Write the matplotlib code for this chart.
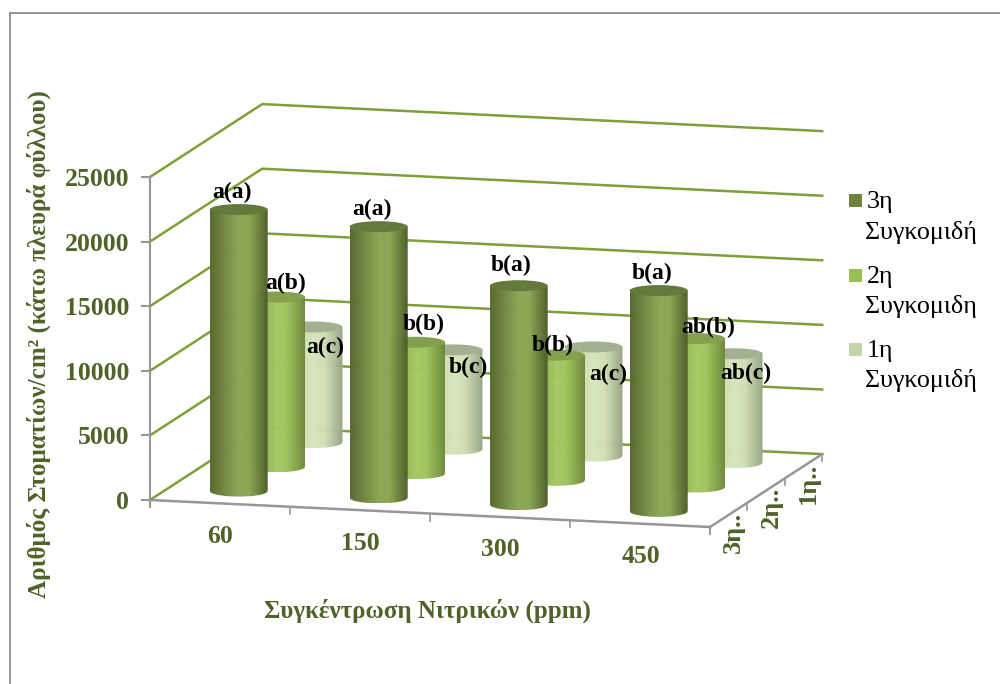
import numpy as np
import matplotlib
matplotlib.use("Agg")
import matplotlib.pyplot as plt
from matplotlib.colors import LinearSegmentedColormap
from matplotlib.patches import Polygon, Ellipse, Rectangle

plt.rcParams['font.family'] = ['Liberation Serif', 'DejaVu Sans']

# data
categories = ['60', '150', '300', '450']
depth_labels = ['3η..', '2η..', '1η..']
y_ticks = [0, 5000, 10000, 15000, 20000, 25000]

harvest_3 = [21800, 21000, 16950, 17100]
harvest_2 = [13150, 10170, 9700, 11500]
harvest_1 = [8950, 7700, 8450, 8450]

letters_3 = ['a(a)', 'a(a)', 'b(a)', 'b(a)']
letters_2 = ['a(b)', 'b(b)', 'b(b)', 'ab(b)']
letters_1 = ['a(c)', 'b(c)', 'a(c)', 'ab(c)']

legend_names = [['3η', 'Συγκομιδή'], ['2η', 'Συγκομιδη'], ['1η', 'Συγκομιδή']]

series = [harvest_3, harvest_2, harvest_1]
letters = [letters_3, letters_2, letters_1]

# colours: shadow left, highlight, shadow right, top of the cylinder, legend
ramps = [['#56692f', '#8ca756', '#8aa553', '#4d5f2a'],
         ['#7d9c45', '#a3c862', '#a0c45e', '#6f8a3a'],
         ['#c4d2a8', '#d8e6bb', '#d2dfb6', '#98a687']]
tops = ['#647a3c', '#84a04e', '#a3b190']
legend_cols = ['#6b863a', '#9abf59', '#c4d6a9']
label_offsets = [(-7, -17), (9, -16), (12, 20)]
# labels the chart moved by hand, (series, category)
label_nudges = {(0, 2): (-1, -3), (1, 0): (1, 2), (1, 1): (-1, -2), (1, 2): (-12, 6), (1, 3): (3, 5),
                (2, 1): (3, -2), (2, 2): (3, 8)}

green = '#7f9f3a'
grey = '#979797'
olive = '#4f6228'

fig = plt.figure(figsize=(10, 6.84), dpi=100)
ax = fig.add_axes([0, 0, 1, 1])


# oblique projection of the 3d box, c = category units, s = series units
def proj(c, s, v):
    x = 150 + 140 * c + 37.4 * s
    y = 500 + 6.75 * c - 24.3 * s - v * 323 / 25000
    return x, y


def cylinder(c, s, v, ramp, top_col):
    xb, yb = proj(c + 0.5, s + 0.5, 0)
    xt, yt = proj(c + 0.5, s + 0.5, v)
    rx, ry = 29, 5.5
    t = np.linspace(np.pi, 0, 40)
    pts = [(xb - rx, yt)] + list(zip(xb + rx * np.cos(t), yb + ry * np.sin(t))) + [(xb + rx, yt)]
    body = Polygon(pts, closed=True, facecolor='none', edgecolor='none', zorder=3 + (3 - s))
    ax.add_patch(body)
    cmap = LinearSegmentedColormap.from_list('cyl', list(zip([0, 0.5, 0.68, 1], ramp)))
    im = ax.imshow(np.linspace(0, 1, 120)[None, :], cmap=cmap, aspect='auto', alpha=0.985,
                   extent=(xb - rx, xb + rx, yb + ry, yt), zorder=3 + (3 - s), interpolation='bilinear')
    im.set_clip_path(body)
    ax.plot(xb + rx * np.cos(t), yb + ry * np.sin(t) + 0.5, color='white', alpha=0.5, lw=1, zorder=3 + (3 - s))
    ax.add_patch(Ellipse((xt, yt), 2 * rx, 2 * ry, facecolor=top_col, edgecolor='none', zorder=3 + (3 - s)))


# outer chart border
ax.plot([10, 10, 1000], [684, 13, 13], color='#8c8c8c', lw=1.3, zorder=1)

# walls
for v in y_ticks:
    x0, y0 = proj(0, 0, v)
    x1, y1 = proj(0, 3, v)
    x2, y2 = proj(4, 3, v)
    ax.plot([x0, x1, x2], [y0, y1, y2], color=green, lw=1.8, zorder=2)
    ax.plot([x0 - 8, x0], [y0, y0], color=grey, lw=1.5, zorder=2)
    ax.text(x0 - 21, y0 + 2.5, str(v), ha='right', va='center', fontsize=18.5, fontweight='bold', color=olive)

# axes lines
x0, y0 = proj(0, 0, 0)
x5, y5 = proj(0, 0, 25000)
ax.plot([x0, x5], [y0 + 7, y5], color=grey, lw=1.5, zorder=2)
x4, y4 = proj(4, 0, 0)
x6, y6 = proj(4, 3, 0)
ax.plot([x0, x4], [y0, y4], color=grey, lw=1.8, zorder=2)
ax.plot([x4, x6], [y4, y6], color=grey, lw=1.8, zorder=2)
for c in range(5):
    xc, yc = proj(c, 0, 0)
    ax.plot([xc, xc], [yc, yc + 7], color=grey, lw=1.2, zorder=2)
for s in range(4):
    xc, yc = proj(4, s, 0)
    ax.plot([xc, xc], [yc, yc + 7], color=grey, lw=1.2, zorder=2)

# back to front
for s in [2, 1, 0]:
    for c in range(4):
        cylinder(c, s, series[s][c], ramps[s], tops[s])

for s in range(3):
    for c in range(4):
        xt, yt = proj(c + 0.5, s + 0.5, series[s][c])
        nx, ny = label_nudges.get((s, c), (0, 0))
        ax.text(xt + label_offsets[s][0] + nx, yt + label_offsets[s][1] + ny, letters[s][c], ha='center', va='center',
                fontsize=17, fontweight='bold', color='black', zorder=10)

# category and depth labels
for c, name in enumerate(categories):
    xc, yc = proj(c + 0.5, 0, 0)
    ax.text(xc + 0.5, yc + 33, name, ha='center', va='center', fontsize=18.5, fontweight='bold', color=olive)
for s, name in enumerate(depth_labels):
    xc, yc = proj(4 + 0.02, s + 0.5, 0)
    ax.text(xc + 2, yc + 17, name, ha='center', va='center', rotation=90, fontsize=19, fontweight='bold', color=olive)

ax.text(427, 611, 'Συγκέντρωση Νιτρικών (ppm)', ha='center', va='center', fontsize=18, fontweight='bold', color=olive)
ax.text(39, 344, 'Αριθμός Στοματίων/cm² (κάτω πλευρά φύλλου)', ha='center', va='center', rotation=90,
        fontsize=18.1, fontweight='bold', color=olive)

# legend
legend_y = [200, 275, 349]
for col, names, y in zip(legend_cols, legend_names, legend_y):
    ax.add_patch(Rectangle((849, y - 6), 13, 13, facecolor=col, edgecolor='none'))
    ax.text(867, y + 2, names[0], ha='left', va='center', fontsize=18.7, color='black')
    ax.text(865, y + 32, names[1], ha='left', va='center', fontsize=18.7, color='black')

ax.set_xlim(0, 1000)
ax.set_ylim(684, 0)
ax.axis('off')

fig.savefig('out.png', dpi=100, facecolor='white')
